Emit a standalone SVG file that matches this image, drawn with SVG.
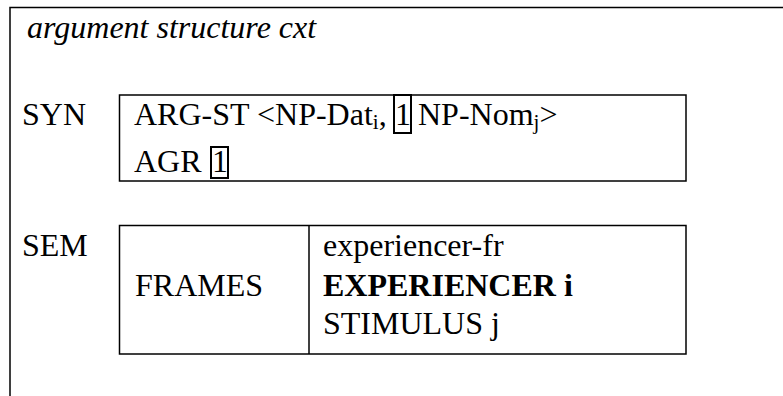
<svg xmlns="http://www.w3.org/2000/svg" width="783" height="396" viewBox="0 0 783 396">
<style>
.t{font-family:"Liberation Serif","Times New Roman",serif;font-size:32px;fill:#000}
.it{font-style:italic}
.b{font-weight:bold}
.sub{font-size:21px}
.ln{fill:none;stroke:#000;stroke-width:1.5}
.bx{fill:none;stroke:#000;stroke-width:2}
</style>
<rect width="783" height="396" fill="#fff"/>
<g id="frame">
<path class="ln" d="M10,396 V7.5 H783" stroke-width="2"/>
</g>
<g id="title"><text class="t it" x="27" y="38">argument structure cxt</text></g>
<g id="syn">
<text class="t" x="22" y="125">SYN</text>
<rect class="ln" x="119.5" y="95" width="566.5" height="86"/>
<text class="t" x="134" y="125">ARG-ST &lt;NP-Dat<tspan class="sub" dy="4">i</tspan><tspan dy="-4">,</tspan></text>
<rect class="bx" x="394" y="95" width="17" height="38"/>
<text class="t" x="395" y="125">1</text>
<text class="t" x="418" y="125">NP-Nom<tspan class="sub" dy="4">j</tspan><tspan dy="-4">&gt;</tspan></text>
<text class="t" x="134" y="172">AGR</text>
<rect class="bx" x="211" y="147" width="17" height="31"/>
<text class="t" x="212" y="172">1</text>
</g>
<g id="sem">
<text class="t" x="22" y="256">SEM</text>
<rect class="ln" x="119.5" y="225.5" width="566.5" height="128.5"/>
<line class="ln" x1="309" y1="225.5" x2="309" y2="354"/>
<text class="t" x="135" y="296">FRAMES</text>
<text class="t" x="323" y="256">experiencer-fr</text>
<text class="t b" x="323" y="296">EXPERIENCER i</text>
<text class="t" x="323" y="334">STIMULUS j</text>
</g>
</svg>
